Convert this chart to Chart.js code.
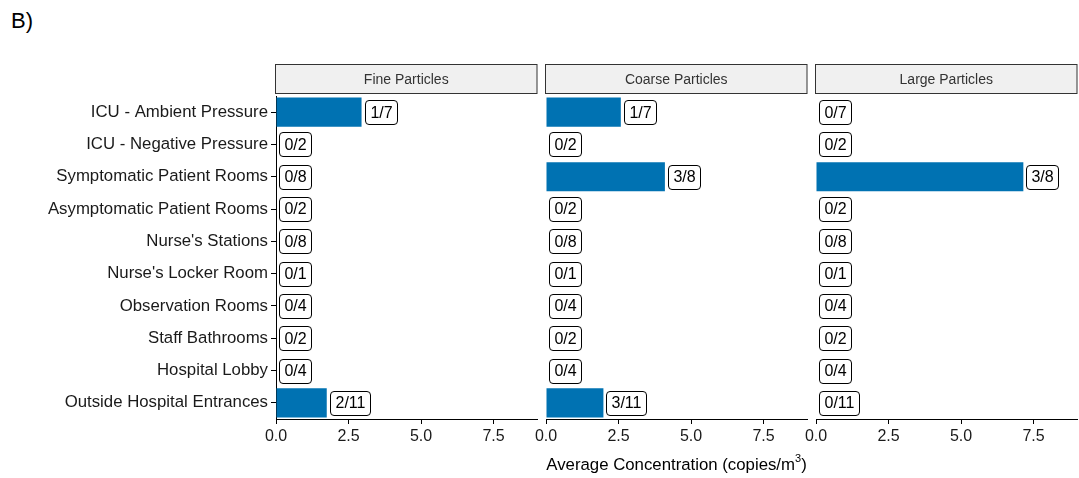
<!DOCTYPE html>
<html>
<head>
<meta charset="utf-8">
<script src="https://cdn.jsdelivr.net/npm/chart.js@4.4.1/dist/chart.umd.min.js"></script>
<style>
body{margin:0;background:#fff;width:1079px;height:478px;position:relative;overflow:hidden;font-family:"Liberation Sans",Arial,sans-serif;}
canvas{position:absolute;top:0;}
#tag{position:absolute;left:11px;top:8px;font-size:22px;color:#000;}
#xtitle{position:absolute;left:276px;width:801px;top:455px;text-align:center;font-size:16.8px;line-height:19px;color:#000;}
#xtitle span{font-size:11px;position:relative;top:-8px;}
</style>
</head>
<body>
<div id="tag">B)</div>
<canvas id="fine" width="540" height="478" style="left:0"></canvas>
<canvas id="coarse" width="300" height="478" style="left:510px"></canvas>
<canvas id="large" width="299" height="478" style="left:780px"></canvas>
<div id="xtitle">Average Concentration (copies/m<span>3</span>)</div>
<script>
const locations = ['ICU - Ambient Pressure', 'ICU - Negative Pressure', 'Symptomatic Patient Rooms',
  'Asymptomatic Patient Rooms', "Nurse's Stations", "Nurse's Locker Room", 'Observation Rooms',
  'Staff Bathrooms', 'Hospital Lobby', 'Outside Hospital Entrances'];
const samples = [7, 2, 8, 2, 8, 1, 4, 2, 4, 11];

const finePositive   = [1, 0, 0, 0, 0, 0, 0, 0, 0, 2];
const coarsePositive = [1, 0, 3, 0, 0, 0, 0, 0, 0, 3];
const largePositive  = [0, 0, 3, 0, 0, 0, 0, 0, 0, 0];

const fineConc   = [2.95, 0, 0, 0, 0, 0, 0, 0, 0, 1.75];
const coarseConc = [2.58, 0, 4.10, 0, 0, 0, 0, 0, 0, 1.98];
const largeConc  = [0, 0, 7.15, 0, 0, 0, 0, 0, 0, 0];

const xTicks = [0, 2.5, 5, 7.5];
const xMax = 9;

const BAR = '#0072B2';
const INK = '#1a1a1a';

// grey facet strip above each panel
const facetStrip = {
  id: 'facetStrip',
  afterDraw(chart, args, opts) {
    const {ctx, chartArea} = chart;
    ctx.save();
    const x = chartArea.left - 0.5, y = 64.5;
    const w = chartArea.right - chartArea.left + 0.5, h = 29;
    ctx.fillStyle = '#f0f0f0';
    ctx.fillRect(x, y, w, h);
    ctx.strokeStyle = '#333';
    ctx.lineWidth = 1;
    ctx.strokeRect(x, y, w, h);
    ctx.fillStyle = '#333';
    ctx.font = '14px "Liberation Sans"';
    ctx.textAlign = 'center';
    ctx.textBaseline = 'middle';
    ctx.fillText(opts.text, x + w / 2, y + h / 2 + 1);
    ctx.restore();
  }
};

// boxed "positives/samples" label at the end of each bar
const countLabels = {
  id: 'countLabels',
  afterDatasetsDraw(chart, args, opts) {
    const ctx = chart.ctx;
    const meta = chart.getDatasetMeta(0);
    ctx.save();
    ctx.font = '16px "Liberation Sans"';
    meta.data.forEach((bar, i) => {
      const txt = opts.positive[i] + '/' + samples[i];
      const w = Math.round(ctx.measureText(txt).width + 10);
      const h = 24;
      const x = Math.round(bar.x + 3) + 0.5;
      const y = Math.round(bar.y - h / 2) + 0.5;
      ctx.beginPath();
      ctx.roundRect(x, y, w, h, 3.5);
      ctx.fillStyle = '#fff';
      ctx.fill();
      ctx.strokeStyle = '#000';
      ctx.lineWidth = 1;
      ctx.stroke();
      ctx.fillStyle = '#000';
      ctx.textAlign = 'center';
      ctx.textBaseline = 'middle';
      ctx.fillText(txt, x + w / 2, bar.y + 1);
    });
    ctx.restore();
  }
};

function panel(id, title, values, positive, showY, axisWidth, rightPad) {
  return new Chart(document.getElementById(id), {
    type: 'bar',
    data: {
      labels: locations,
      datasets: [{
        data: values,
        backgroundColor: BAR,
        borderWidth: 0,
        barPercentage: 0.9,
        categoryPercentage: 1
      }]
    },
    options: {
      indexAxis: 'y',
      responsive: false,
      animation: false,
      layout: {padding: {top: 96, right: rightPad, bottom: 0, left: 0}},
      plugins: {
        legend: {display: false},
        tooltip: {enabled: false},
        facetStrip: {text: title},
        countLabels: {positive: positive}
      },
      scales: {
        x: {
          min: 0,
          max: xMax,
          afterBuildTicks: (scale) => { scale.ticks = xTicks.map(v => ({value: v})); },
          afterFit: (scale) => { scale.height = 59; },
          ticks: {
            color: INK,
            padding: 3,
            font: {family: 'Liberation Sans', size: 16},
            callback: (v) => Number(v).toFixed(1)
          },
          grid: {display: true, drawOnChartArea: false, drawTicks: true, tickLength: 5, color: '#000', lineWidth: 1},
          border: {display: true, color: '#000', width: 1}
        },
        y: {
          afterFit: (scale) => { scale.width = axisWidth; },
          ticks: {
            display: showY,
            color: INK,
            padding: 3,
            font: {family: 'Liberation Sans', size: 16.8}
          },
          grid: {display: showY, offset: false, drawOnChartArea: false, drawTicks: true, tickLength: 5, color: '#000', lineWidth: 1},
          border: {display: showY, color: '#000', width: 1}
        }
      }
    },
    plugins: [facetStrip, countLabels]
  });
}

panel('fine', 'Fine Particles', fineConc, finePositive, true, 276, 3);
panel('coarse', 'Coarse Particles', coarseConc, coarsePositive, false, 36, 3);
panel('large', 'Large Particles', largeConc, largePositive, false, 36, 2);
</script>
</body>
</html>
